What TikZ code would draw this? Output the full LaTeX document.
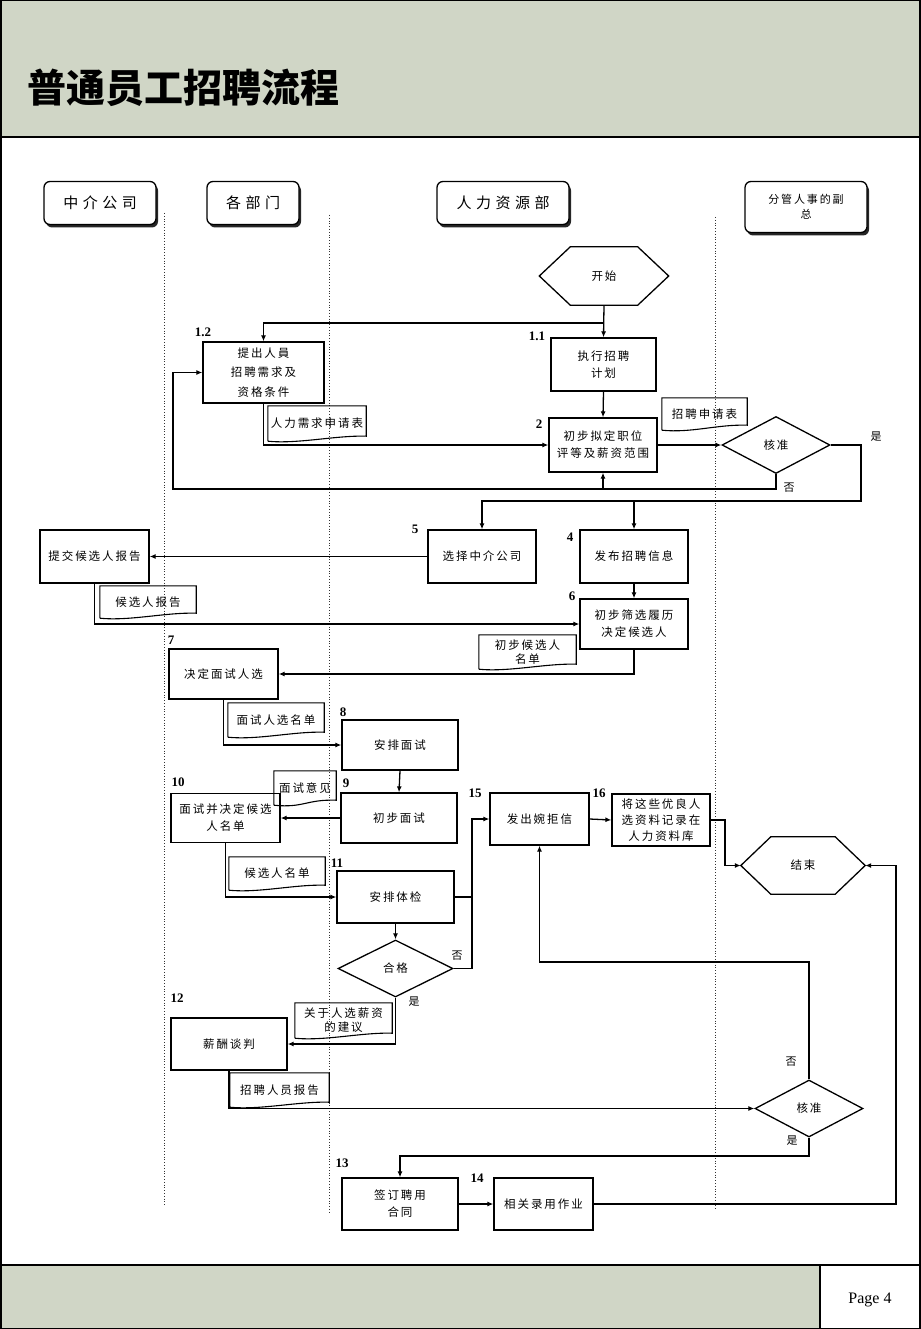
\documentclass[tikz,border=0pt]{standalone}
\usepackage{fontspec}
\setmainfont{Liberation Serif}
\newfontfamily\cjk{Noto Sans CJK SC}[LetterSpace=17]
\newfontfamily\cjklane{Noto Sans CJK SC}[LetterSpace=30]
\newfontfamily\cjktitle{Noto Sans CJK SC}
\usetikzlibrary{arrows.meta,shapes.geometric,shadows}

\definecolor{bandgreen}{RGB}{208,214,198}

\tikzset{
  taskbox/.style={draw, line width=1.3pt, fill=white, align=center, inner sep=1pt,
    font=\cjk\fontsize{11.5}{17}\selectfont},
  docbox/.style={align=center, inner sep=1pt, font=\cjk\fontsize{11.5}{15}\selectfont},
  checkbox/.style={diamond, draw, line width=1.3pt, fill=white, aspect=1.9, inner sep=0pt,
    font=\cjk\fontsize{11.5}{14}\selectfont},
  hexbox/.style={inner sep=0pt, font=\cjk\fontsize{11.5}{14}\selectfont},
  lanehead/.style={draw, line width=1.3pt, rounded corners=6pt, fill=white, align=center,
    drop shadow={shadow xshift=2pt,shadow yshift=-3pt,fill=black,opacity=0.85}},
  numlabel/.style={font=\bfseries\fontsize{13}{13}\selectfont},
  yesno/.style={font=\cjk\fontsize{11}{11}\selectfont},
  flow/.style={line width=1.3pt, -{Latex[length=6pt,width=5pt]}},
  plainline/.style={line width=1.3pt},
  lanerule/.style={dotted, line width=0.8pt, black!80},
}

% outline of a hexagon node (terminator)
\newcommand{\hexout}[2]{\draw[line width=1.3pt] (#1.west) -- ([xshift=#2]#1.north west)
  -- ([xshift=-#2]#1.north east) -- (#1.east) -- ([xshift=-#2]#1.south east)
  -- ([xshift=#2]#1.south west) -- cycle;}
% outline of a document node (wavy bottom)
\newcommand{\docout}[1]{\draw[line width=1.1pt] (#1.south west) -- (#1.north west)
  -- (#1.north east) -- ([yshift=5pt]#1.south east)
  .. controls ([xshift=-30pt,yshift=6pt]#1.south east) and ([xshift=30pt,yshift=-3pt]#1.south west)
  .. (#1.south west);}

\begin{document}
\begin{tikzpicture}[x=1pt,y=-1pt]
\useasboundingbox (0,0) rectangle (920,1329);
% page frame
\fill[bandgreen] (0,0) rectangle (920,137);
\fill[bandgreen] (0,1265) rectangle (820,1329);
\draw[line width=1.5pt] (0,137) -- (920,137);
\draw[line width=1.5pt] (0,1265) -- (920,1265);
\draw[line width=1.2pt] (820,1265) -- (820,1329);
\draw[line width=3pt] (0,0) rectangle (920,1329);
\node[anchor=west, font=\cjktitle\bfseries\fontsize{39}{39}\selectfont] (title) at (24,88) {普通员工招聘流程};
\node[font=\fontsize{16}{16}\selectfont] (page) at (870,1300) {Page 4};

% lanes
\node[lanehead, minimum width=112, minimum height=43, font=\cjklane\fontsize{15}{15}\selectfont] (agency) at (100,203) {中介公司};
\node[lanehead, minimum width=92, minimum height=43, font=\cjklane\fontsize{15}{15}\selectfont] (dept) at (253,203) {各部门};
\node[lanehead, minimum width=132, minimum height=43, font=\cjklane\fontsize{15}{15}\selectfont] (hr) at (503,203) {人力资源部};
\node[lanehead, minimum width=122, minimum height=51, font=\cjk\fontsize{11}{15}\selectfont] (vp) at (806,207) {分管人事的副\\总};
\draw[lanerule] (164,213) -- (164,1205);
\draw[lanerule] (329,215) -- (329,1212);
\draw[lanerule] (715,217) -- (715,1210);

% steps
\node[hexbox, minimum width=129, minimum height=58] (start) at (604,276) {开始};
\hexout{start}{31pt}
\node[taskbox, minimum width=105, minimum height=53] (t11) at (603.5,364.5) {执行招聘\\计划};
\node[taskbox, minimum width=121, minimum height=61, font=\cjk\fontsize{11.5}{19.5}\selectfont] (t12) at (263.5,372.5) {提出人員\\招聘需求及\\资格条件};
\node[taskbox, minimum width=108, minimum height=54] (t2) at (603,445) {初步拟定职位\\评等及薪资范围};
\node[checkbox, minimum width=108, minimum height=57] (ok1) at (776,445) {核准};
\node[taskbox, minimum width=108, minimum height=53] (t5) at (482,556.5) {选择中介公司};
\node[taskbox, minimum width=108, minimum height=53] (t4) at (634,556.5) {发布招聘信息};
\node[taskbox, minimum width=109, minimum height=53] (tsub) at (94.5,556.5) {提交候选人报告};
\node[taskbox, minimum width=108, minimum height=50] (t6) at (634,624) {初步筛选履历\\决定候选人};
\node[taskbox, minimum width=109, minimum height=50] (t7) at (223.5,674) {决定面试人选};
\node[taskbox, minimum width=116, minimum height=50] (t8) at (400,745) {安排面试};
\node[taskbox, minimum width=116, minimum height=50] (t9) at (399,818) {初步面试};
\node[taskbox, minimum width=109, minimum height=49] (t10) at (225.5,818) {面试并决定候选\\人名单};
\node[taskbox, minimum width=117, minimum height=52] (t11b) at (395.5,897) {安排体检};
\node[checkbox, minimum width=115, minimum height=57] (ok2) at (395.5,968.5) {合格};
\node[taskbox, minimum width=99, minimum height=52] (t15) at (539.5,819) {发出婉拒信};
\node[taskbox, minimum width=98, minimum height=52, font=\cjk\fontsize{11.5}{16}\selectfont] (t16) at (661,820) {将这些优良人\\选资料记录在\\人力资料库};
\node[hexbox, minimum width=124, minimum height=57] (finish) at (803,865.5) {结束};
\hexout{finish}{30pt}
\node[taskbox, minimum width=116, minimum height=52] (t12b) at (229,1044) {薪酬谈判};
\node[checkbox, minimum width=108, minimum height=57] (ok3) at (809,1108.5) {核准};
\node[taskbox, minimum width=116, minimum height=52] (t13) at (400,1204) {签订聘用\\合同};
\node[taskbox, minimum width=99, minimum height=52] (t14) at (543.5,1204) {相关录用作业};

% documents
\node[docbox, minimum width=98, minimum height=35] (d1) at (317,423.5) {人力需求申请表};
\docout{d1}
\node[docbox, minimum width=85, minimum height=32] (d2) at (704.5,414) {招聘申请表};
\docout{d2}
\node[docbox, minimum width=96, minimum height=32] (d3) at (148,602) {候选人报告};
\docout{d3}
\node[docbox, minimum width=97, minimum height=34, font=\cjk\fontsize{11.5}{14}\selectfont] (d4) at (527.5,652) {初步候选人\\名单};
\docout{d4}
\node[docbox, minimum width=96, minimum height=34] (d5) at (276,720) {面试人选名单};
\docout{d5}
\node[docbox, minimum width=62, minimum height=34] (d6) at (305,788) {面试意见};
\docout{d6}
\node[docbox, minimum width=96, minimum height=33] (d7) at (277,873.5) {候选人名单};
\docout{d7}
\node[docbox, minimum width=97, minimum height=35, font=\cjk\fontsize{11.5}{14}\selectfont] (d8) at (343.5,1020.5) {关于人选薪资\\的建议};
\docout{d8}
\node[docbox, minimum width=99, minimum height=34] (d9) at (279.5,1090) {招聘人员报告};
\docout{d9}

% connectors
\coordinate (j1) at (603.5,323);
\coordinate (j2) at (861,501);
\coordinate (j3) at (634,501);
\coordinate (j4) at (173,489);
\coordinate (j5) at (603,489);
\coordinate (j6) at (472,897);
\coordinate (j8) at (725,820);
\coordinate (j9) at (809,962);
\coordinate (j10) at (809,1156);
\coordinate (j11) at (896,1204);
\draw[flow] (start.south) -- (t11.north);
\draw[flow] (j1) -| (t12.north);
\draw[flow] (t11.south) -- (t2.north);
\draw[flow] (t12.south) |- (t2.west);
\draw[flow] (t2.east) -- (ok1.west);
\draw[flow] (ok1.east) -| (j2) -| (t5.north);
\draw[flow] (j3) -- (t4.north);
\draw[flow] (ok1.south) |- (j4) |- (t12.west);
\draw[flow] (j5) -- (t2.south);
\draw[flow] (t5.west) -- (tsub.east);
\draw[flow] (tsub.south) |- (t6.west);
\draw[flow] (t4.south) -- (t6.north);
\draw[flow] (t6.south) |- (t7.east);
\draw[flow] (t7.south) |- (t8.west);
\draw[flow] (t8.south) -- (t9.north);
\draw[flow] (t9.west) -- (t10.east);
\draw[flow] (t10.south) |- (t11b.west);
\draw[plainline] (t11b.east) -- (j6);
\draw[flow] (t11b.south) -- (ok2.north);
\draw[flow] (ok2.east) -| (j6) |- (t15.west);
\draw[flow] (t15.east) -- (t16.west);
\draw[flow] (t16.east) -| (j8) |- (finish.west);
\draw[flow] (ok2.south) |- (t12b.east);
\draw[flow] (t12b.south) |- (ok3.west);
\draw[flow] (ok3.north) -- (j9) -| (t15.south);
\draw[flow] (ok3.south) -- (j10) -| (t13.north);
\draw[flow] (t13.east) -- (t14.west);
\draw[flow] (t14.east) -- (j11) |- (finish.east);

% step numbers
\node[numlabel] (n12) at (203,332) {1.2};
\node[numlabel] (n11) at (537,336) {1.1};
\node[numlabel] (n2) at (539,424) {2};
\node[numlabel] (n5) at (415,529) {5};
\node[numlabel] (n4) at (570,537) {4};
\node[numlabel] (n6) at (572,596) {6};
\node[numlabel] (n7) at (171,640) {7};
\node[numlabel] (n8) at (343,712) {8};
\node[numlabel] (n9) at (346,783) {9};
\node[numlabel] (n10) at (178,782) {10};
\node[numlabel] (n11b) at (337,863) {11};
\node[numlabel] (n15) at (475,793) {15};
\node[numlabel] (n16) at (599,793) {16};
\node[numlabel] (n12b) at (177,998) {12};
\node[numlabel] (n13) at (342,1163) {13};
\node[numlabel] (n14) at (477,1178) {14};

% yes / no
\node[yesno] (y1) at (876,437) {是};
\node[yesno] (f1) at (789,488) {否};
\node[yesno] (f2) at (457,956) {否};
\node[yesno] (y2) at (414,1002) {是};
\node[yesno] (f3) at (791,1062) {否};
\node[yesno] (y3) at (792,1141) {是};
\end{tikzpicture}
\end{document}
